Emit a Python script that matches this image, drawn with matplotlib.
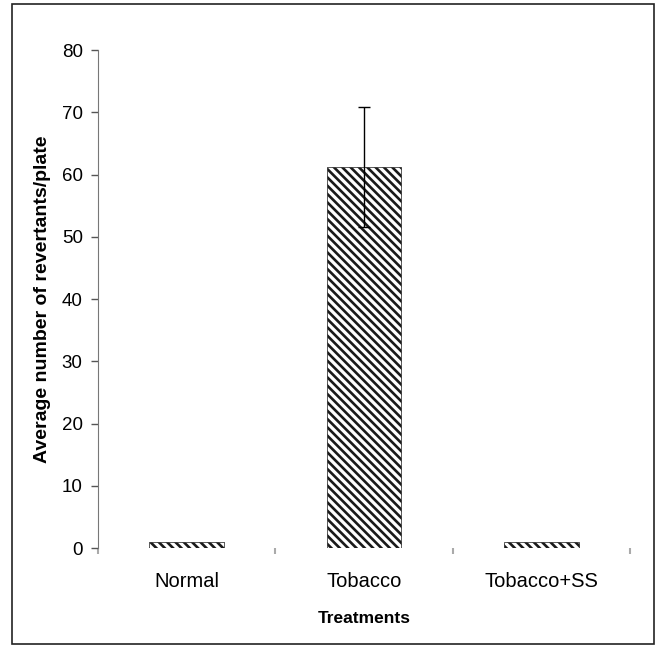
import matplotlib.pyplot as plt
from matplotlib.patches import Rectangle

treatments = ["Normal", "Tobacco", "Tobacco+SS"]
revertants = [0.9, 61.2, 0.9]
errors = [0, 9.6, 0]
y_ticks = [0, 10, 20, 30, 40, 50, 60, 70, 80]

plt.rcParams["font.family"] = ["Liberation Sans", "DejaVu Sans"]
plt.rcParams["hatch.linewidth"] = 1.9

fig = plt.figure(figsize=(6.59, 6.48), dpi=100)
ax = fig.add_axes([0.1487, 0.1543, 0.8073, 0.7685])

# frame round the whole picture
fig.patches.append(Rectangle((0.018, 0.006), 0.974, 0.988, transform=fig.transFigure,
                             fill=False, edgecolor="#222222", linewidth=1.2))

x = range(len(treatments))
ax.bar(x, revertants, width=0.42, color="white", edgecolor="#1a1a1a",
       hatch="\\\\\\\\", linewidth=0.5)
ax.errorbar([1], [revertants[1]], yerr=[errors[1]], fmt="none", ecolor="black",
            elinewidth=1, capsize=4.5, capthick=1)

ax.set_xlim(-0.5, 2.5)
ax.set_ylim(0, 80)
ax.set_yticks(y_ticks)
ax.tick_params(axis="y", labelsize=13.5, length=5, width=1, color="#555555", pad=6)
ax.set_xticks(list(x))
ax.set_xticklabels(treatments, fontsize=14.5)
ax.tick_params(axis="x", length=0, pad=17)
ax.set_xticks([0.5, 1.5, 2.5, -0.5], minor=True)
ax.tick_params(axis="x", which="minor", length=4, width=1.5, color="#aaaaaa")

for side in ["top", "right", "bottom"]:
    ax.spines[side].set_visible(False)
ax.spines["left"].set_color("#777777")

ax.set_ylabel("Average number of revertants/plate", fontsize=14, fontweight="bold",
              labelpad=8)
ax.set_xlabel("Treatments", fontsize=12.5, fontweight="bold", labelpad=15)

fig.savefig("out.png", dpi=100)
